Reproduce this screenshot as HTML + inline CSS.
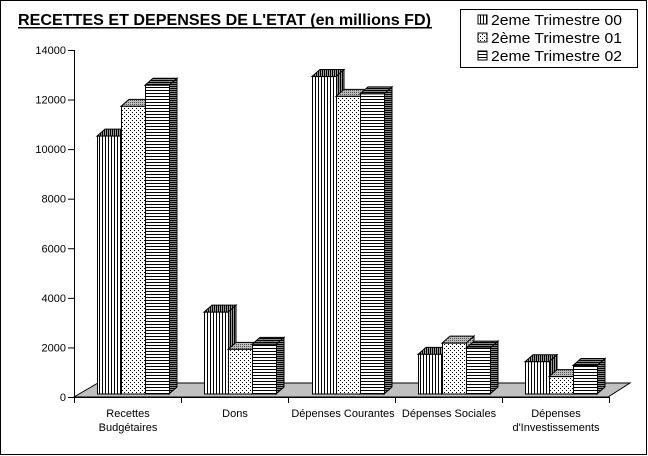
<!DOCTYPE html>
<html><head><meta charset="utf-8"><style>
body{margin:0;background:#fff}
svg{display:block;font-family:"Liberation Sans",sans-serif}
</style></head><body>
<svg id="s" width="648" height="456" xmlns="http://www.w3.org/2000/svg">
<defs>
<pattern id="pv" width="3" height="3" patternUnits="userSpaceOnUse"><rect width="3" height="3" fill="#fff"/><rect width="1" height="3" fill="#000"/></pattern>
<pattern id="pd" width="4" height="4" patternUnits="userSpaceOnUse"><rect width="4" height="4" fill="#fff"/><rect width="1" height="1" fill="#000"/><rect x="2" y="2" width="1" height="1" fill="#000"/></pattern>
<pattern id="ph" width="3" height="3" patternUnits="userSpaceOnUse"><rect width="3" height="3" fill="#fff"/><rect width="3" height="1" fill="#000"/></pattern>
<pattern id="pv2" width="2" height="2" patternUnits="userSpaceOnUse"><rect width="2" height="2" fill="#999"/><rect width="1" height="2" fill="#000"/></pattern>
<pattern id="pd2" width="2" height="2" patternUnits="userSpaceOnUse"><rect width="2" height="2" fill="#bbb"/><rect width="1" height="1" fill="#555"/></pattern>
<pattern id="ph2" width="2" height="2" patternUnits="userSpaceOnUse"><rect width="2" height="2" fill="#888"/><rect width="2" height="1" fill="#000"/></pattern>
</defs>
<rect x="0.5" y="0.5" width="646" height="454" fill="#fff" stroke="#000"/>
<text x="18" y="25" font-size="16" font-weight="bold" textLength="413" lengthAdjust="spacingAndGlyphs">RECETTES ET DEPENSES DE L'ETAT (en millions FD)</text>
<rect x="18" y="27" width="414" height="1.5" fill="#000"/>
<polygon points="74,397 98,383 630,383 608,397" fill="#c0c0c0" stroke="#000"/>
<line x1="74.5" y1="50" x2="74.5" y2="397" stroke="#000"/>
<line x1="74" y1="397.5" x2="609" y2="397.5" stroke="#000"/>
<g id="g"></g>
<rect x="460.5" y="9.5" width="177" height="58" fill="#fff" stroke="#000"/>
<rect x="478" y="15" width="9" height="9" fill="url(#pv)" stroke="#000"/>
<rect x="478" y="33" width="9" height="9" fill="url(#pd)" stroke="#000"/>
<rect x="478" y="51" width="9" height="9" fill="url(#ph)" stroke="#000"/>
<text x="491" y="25" font-size="15" textLength="131" lengthAdjust="spacingAndGlyphs">2eme Trimestre 00</text>
<text x="491" y="43" font-size="15" textLength="131" lengthAdjust="spacingAndGlyphs">2ème Trimestre 01</text>
<text x="491" y="61" font-size="15" textLength="131" lengthAdjust="spacingAndGlyphs">2eme Trimestre 02</text>
</svg>
<script>
var g=document.getElementById('g'),h='';
for(var i=0;i<=7;i++){var y=397-i*2000*0.02479;h+='<line x1="68" x2="74" y1="'+(y+.5)+'" y2="'+(y+.5)+'" stroke="#000"/><text x="66" y="'+(y+4)+'" font-size="11" text-anchor="end">'+(i*2000)+'</text>';}
[74,181,288,395,502,609].forEach(function(x){h+='<line x1="'+(x+.5)+'" x2="'+(x+.5)+'" y1="397" y2="403" stroke="#000"/>';});
var labs=[["Recettes","Budgétaires"],["Dons"],["Dépenses Courantes"],["Dépenses Sociales"],["Dépenses","d'Investissements"]];
var vals=[[10400,11600,12450],[3300,1800,2000],[12800,12000,12100],[1600,2050,1850],[1300,700,1150]];
var x0=[97,204,312,418,525],f=['pv','pd','ph'],f2=['pv2','pd2','ph2'];
for(var c=0;c<5;c++){var cx=x0[c]+36;
labs[c].forEach(function(t,k){h+='<text x="'+(cx-5)+'" y="'+(417+k*14)+'" font-size="11" text-anchor="middle">'+t+'</text>';});
for(var b=0;b<3;b++){var x=x0[c]+b*24,w=24,yb=394,yt=yb-vals[c][b]*0.0248,d=8,e=7;
h+='<polygon points="'+(x+w)+','+yb+' '+(x+w+d)+','+(yb-e)+' '+(x+w+d)+','+(yt-e)+' '+(x+w)+','+yt+'" fill="url(#'+f2[b]+')" stroke="#000"/>';
h+='<polygon points="'+x+','+yt+' '+(x+d)+','+(yt-e)+' '+(x+w+d)+','+(yt-e)+' '+(x+w)+','+yt+'" fill="url(#'+f2[b]+')" stroke="#000"/>';
h+='<rect x="'+(x+.5)+'" y="'+yt+'" width="'+w+'" height="'+(yb-yt)+'" fill="url(#'+f[b]+')" stroke="#000"/>';}}
g.innerHTML=h;
</script>
</body></html>
